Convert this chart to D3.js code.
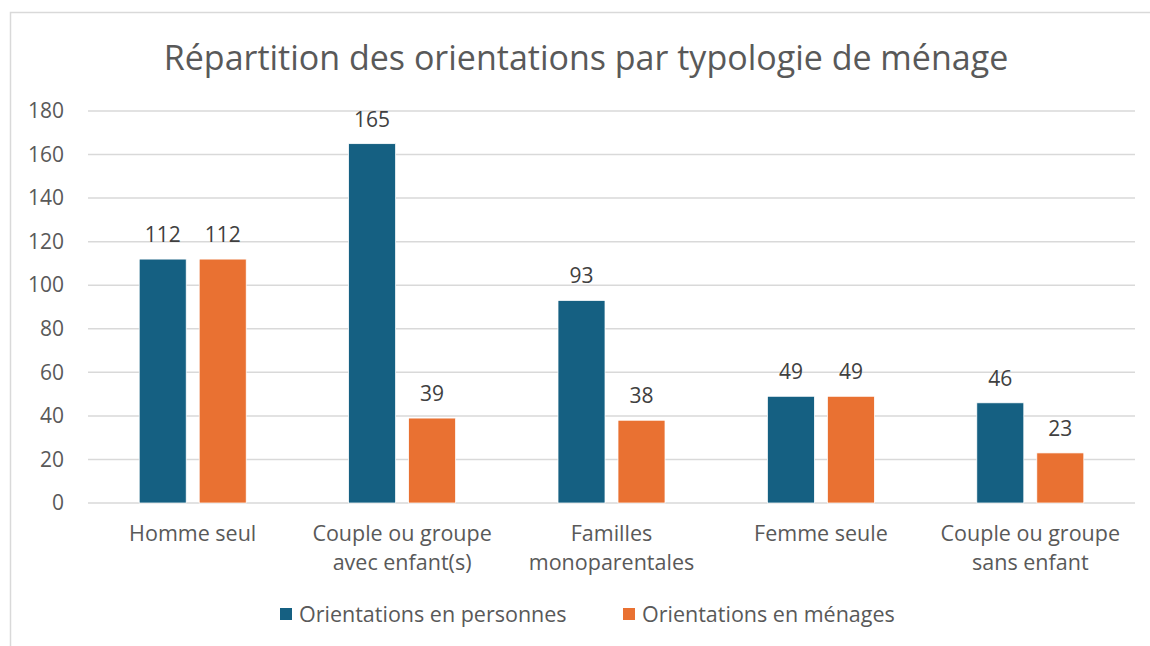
<!DOCTYPE html>
<html>
<head>
<meta charset="utf-8">
<script src="https://cdn.jsdelivr.net/npm/d3@7"></script>
<style>
  body { margin: 0; background: #fff; }
  text { font-family: "Open Sans", "Noto Sans", sans-serif; }
</style>
</head>
<body>
<div id="chart"></div>
<script>
// Chart data
const categories = ["Homme seul", "Couple ou groupe\navec enfant(s)", "Familles\nmonoparentales", "Femme seule", "Couple ou groupe\nsans enfant"];
const seriesNames = ["Orientations en personnes", "Orientations en ménages"];
const personnes = [112, 165, 93, 49, 46];
const menages = [112, 39, 38, 49, 23];
const yTicks = [0, 20, 40, 60, 80, 100, 120, 140, 160, 180];
const seriesColors = ["#156082", "#E97132"];

const W = 1150, H = 646;
const margin = {top: 111, right: 15, bottom: 143, left: 88};
const width = W - margin.left - margin.right;
const height = H - margin.top - margin.bottom;

const svg = d3.select("#chart").append("svg")
    .attr("width", W)
    .attr("height", H);

// outer frame (cropped by the picture)
svg.append("rect")
    .attr("x", 10.5).attr("y", 12.5)
    .attr("width", 1200).attr("height", 700)
    .attr("fill", "none")
    .attr("stroke", "#d9d9d9")
    .attr("stroke-width", 1.5);

// Title
svg.append("text")
    .attr("x", 586)
    .attr("y", 70)
    .attr("text-anchor", "middle")
    .attr("fill", "#595959")
    .style("font-size", "34px")
    .text("Répartition des orientations par typologie de ménage");

const g = svg.append("g")
    .attr("transform", `translate(${margin.left},${margin.top})`);

const x = d3.scaleBand()
    .domain(categories)
    .range([0, width])
    .paddingInner(0)
    .paddingOuter(0);

const y = d3.scaleLinear()
    .domain([0, 180])
    .range([height, 0]);

// gridlines
g.selectAll(".grid")
    .data(yTicks)
    .enter().append("line")
    .attr("x1", 0).attr("x2", width)
    .attr("y1", d => y(d)).attr("y2", d => y(d))
    .attr("stroke", "#d9d9d9")
    .attr("stroke-width", 1.5);

// y axis labels
const yAxis = g.append("g")
    .call(d3.axisLeft(y).tickValues(yTicks).tickSize(0).tickPadding(24));
yAxis.select(".domain").remove();
yAxis.selectAll("text")
    .attr("fill", "#595959")
    .style("font-size", "21px")
    .style("font-family", "'Open Sans', sans-serif");

// bars
const barW = 47, barGap = 13;
const data = [personnes, menages];
const offsets = [-(barGap / 2 + barW), barGap / 2];

data.forEach((vals, si) => {
    g.selectAll(".bar" + si)
        .data(vals)
        .enter().append("rect")
        .attr("x", (d, i) => x(categories[i]) + x.bandwidth() / 2 + offsets[si])
        .attr("y", d => y(d))
        .attr("width", barW)
        .attr("height", d => height - y(d))
        .attr("fill", seriesColors[si])
        .attr("stroke", "#fff")
        .attr("stroke-width", 0.75);

    g.selectAll(".lbl" + si)
        .data(vals)
        .enter().append("text")
        .attr("x", (d, i) => x(categories[i]) + x.bandwidth() / 2 + offsets[si] + barW / 2)
        .attr("y", d => y(d) - 17)
        .attr("text-anchor", "middle")
        .attr("fill", "#404040")
        .style("font-size", "21px")
        .text(d => d);
});

// category labels
categories.forEach(c => {
    const lines = c.split("\n");
    const t = g.append("text")
        .attr("x", x(c) + x.bandwidth() / 2)
        .attr("y", height + 38)
        .attr("text-anchor", "middle")
        .attr("fill", "#595959")
        .style("font-size", "21.5px");
    lines.forEach((l, i) => {
        t.append("tspan")
            .attr("x", x(c) + x.bandwidth() / 2)
            .attr("dy", i === 0 ? 0 : 29)
            .text(l);
    });
});

// legend
const legendX = [280, 623];
seriesNames.forEach((name, i) => {
    svg.append("rect")
        .attr("x", legendX[i]).attr("y", 608)
        .attr("width", 12).attr("height", 12)
        .attr("fill", seriesColors[i]);
    svg.append("text")
        .attr("x", legendX[i] + 19)
        .attr("y", 622)
        .attr("fill", "#595959")
        .style("font-size", "21.5px")
        .text(name);
});
</script>
</body>
</html>
